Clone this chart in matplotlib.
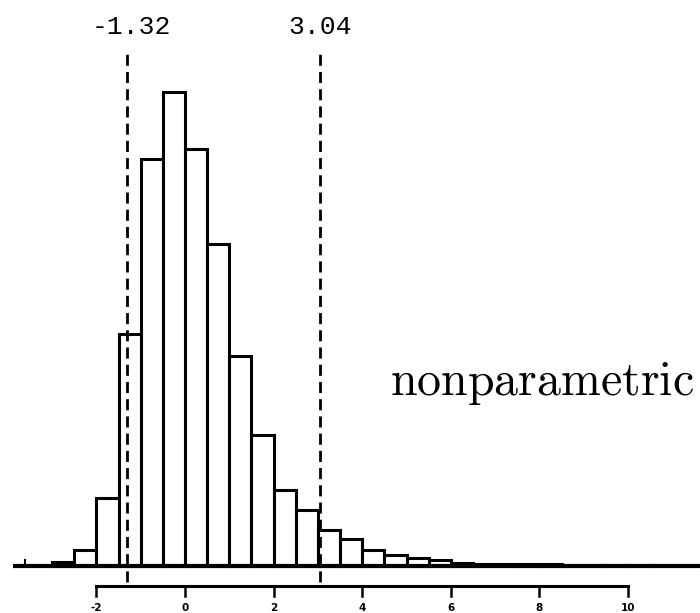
# histogram of bootstrap estimates, nonparametric, with 90% interval marked
import matplotlib.pyplot as plt
import numpy as np

plt.rcParams['mathtext.fontset'] = 'cm'

# bin left edges (width 0.5) and bar heights
bin_left = [-3.0, -2.5, -2.0, -1.5, -1.0, -0.5, 0.0, 0.5, 1.0, 1.5, 2.0, 2.5,
            3.0, 3.5, 4.0, 4.5, 5.0, 5.5, 6.0, 6.5, 7.0, 7.5, 8.0, 8.5,
            9.0, 9.5, 10.0, 10.5, 11.0]
heights = [4, 16, 68, 232, 407, 474, 417, 322, 210, 131, 76, 56,
           36, 27, 16, 11, 8, 6, 3, 2, 2, 2, 2, 1,
           1, 1, 1, 1, 1]
bin_width = 0.5

lower, upper = -1.32, 3.04
ticks = [-2, 0, 2, 4, 6, 8, 10]
label = "nonparametric"

fig = plt.figure(figsize=(7, 6.13), dpi=100)
ax = fig.add_axes([0, 0, 1, 1])
ax.set_xlim(-4.176, 11.625)
ax.set_ylim(-47, 566)
ax.axis('off')

# bars
ax.bar(bin_left, heights, width=bin_width, align='edge',
       facecolor='white', edgecolor='black', linewidth=2.2, zorder=2)

# baseline with the little start mark
ax.plot([-3.88, 11.65], [0, 0], color='black', lw=3, zorder=3,
        solid_capstyle='butt')
ax.plot([-3.61, -3.61], [0, 6], color='black', lw=1.5, zorder=3)

# dashed interval lines
for v in (lower, upper):
    ax.plot([v, v], [-16, 516], color='black', lw=2, dashes=(4, 2.2), zorder=4)
    ax.text(v + (0.12 if v < 0 else 0), 539, f"{v:.2f}", ha='center', va='center',
            family='Liberation Mono', fontsize=19)

# separate scale underneath
ax.plot([ticks[0], ticks[-1]], [-20, -20], color='black', lw=2.2)
for t in ticks:
    ax.plot([t, t], [-20, -30], color='black', lw=1.8)
    ax.text(t, -37, str(t), ha='center', va='top', fontsize=7.5, fontweight='bold')

ax.text(11.5, 171, r'$\mathrm{' + label + '}$', ha='right', va='baseline',
        fontsize=34.5)

fig.savefig('out.png', dpi=100)
